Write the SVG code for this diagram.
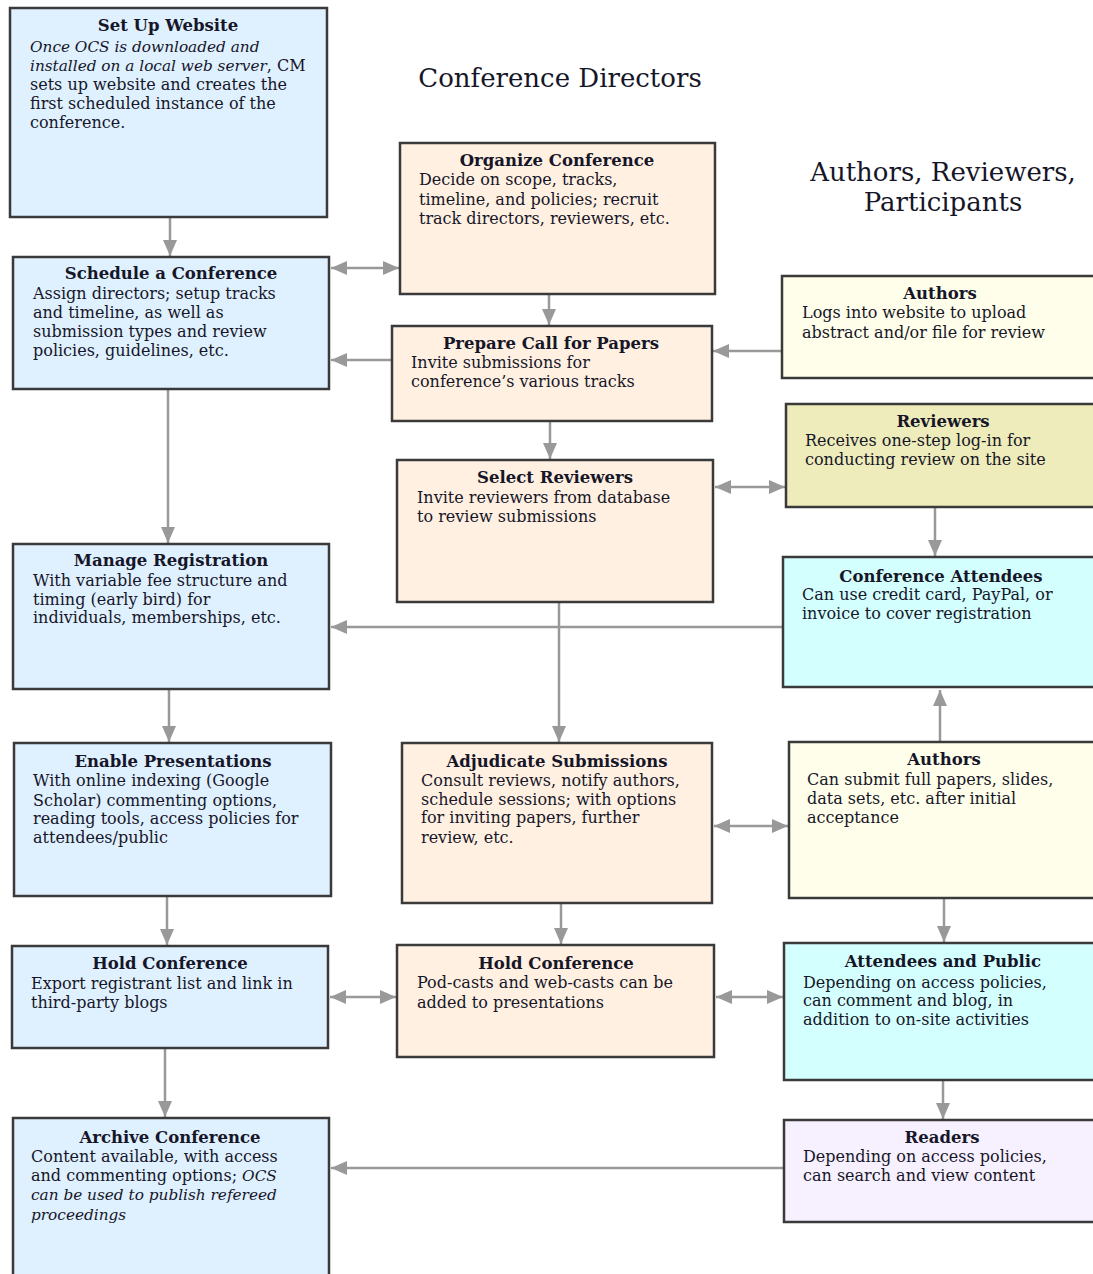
<svg xmlns="http://www.w3.org/2000/svg" width="1093" height="1274" viewBox="0 0 1093 1274">
<defs>
<style>
.box{stroke:#3a3a3a;stroke-width:2.5}
.blue{fill:#dff0ff}
.peach{fill:#fff0e2}
.yel{fill:#fffeea}
.khaki{fill:#eeecba}
.cyan{fill:#d4ffff}
.lav{fill:#f6f0ff}
text{font-family:"DejaVu Serif","Liberation Serif",serif;fill:#161628}
.t{font-size:16.5px;font-weight:bold;text-anchor:middle}
.b{font-size:16px}
.i{font-style:italic;font-size:15.3px}
.h{font-size:26px}
.c{stroke:#999;stroke-width:2.5;fill:none}
</style>
<marker id="a" viewBox="0 0 16 14" refX="16" refY="7" markerWidth="16" markerHeight="14" markerUnits="userSpaceOnUse" orient="auto-start-reverse">
<path d="M0,0 L16,7 L0,14 Z" fill="#999"/>
</marker>
</defs>
<rect width="1093" height="1274" fill="#ffffff"/>

<g id="headings">
<text class="h" x="560" y="87" text-anchor="middle">Conference Directors</text>
<text class="h" x="943" y="181" text-anchor="middle">Authors, Reviewers,</text>
<text class="h" x="943" y="211" text-anchor="middle">Participants</text>
</g>

<g id="connectors">
<line class="c" x1="170" y1="218" x2="170" y2="256" marker-end="url(#a)"/>
<line class="c" x1="331" y1="268" x2="399" y2="268" marker-start="url(#a)" marker-end="url(#a)"/>
<line class="c" x1="549" y1="295" x2="549" y2="325" marker-end="url(#a)"/>
<line class="c" x1="391" y1="360" x2="331" y2="360" marker-end="url(#a)"/>
<line class="c" x1="781" y1="351" x2="713" y2="351" marker-end="url(#a)"/>
<line class="c" x1="550" y1="422" x2="550" y2="459" marker-end="url(#a)"/>
<line class="c" x1="715" y1="487" x2="785" y2="487" marker-start="url(#a)" marker-end="url(#a)"/>
<line class="c" x1="935" y1="508" x2="935" y2="556" marker-end="url(#a)"/>
<line class="c" x1="168" y1="390" x2="168" y2="543" marker-end="url(#a)"/>
<line class="c" x1="782" y1="627" x2="331" y2="627" marker-end="url(#a)"/>
<line class="c" x1="559" y1="603" x2="559" y2="742" marker-end="url(#a)"/>
<line class="c" x1="169" y1="690" x2="169" y2="742" marker-end="url(#a)"/>
<line class="c" x1="940" y1="741" x2="940" y2="690" marker-end="url(#a)"/>
<line class="c" x1="714" y1="826" x2="788" y2="826" marker-start="url(#a)" marker-end="url(#a)"/>
<line class="c" x1="167" y1="897" x2="167" y2="945" marker-end="url(#a)"/>
<line class="c" x1="561" y1="904" x2="561" y2="944" marker-end="url(#a)"/>
<line class="c" x1="944" y1="899" x2="944" y2="942" marker-end="url(#a)"/>
<line class="c" x1="330" y1="997" x2="396" y2="997" marker-start="url(#a)" marker-end="url(#a)"/>
<line class="c" x1="716" y1="997" x2="783" y2="997" marker-start="url(#a)" marker-end="url(#a)"/>
<line class="c" x1="165" y1="1049" x2="165" y2="1117" marker-end="url(#a)"/>
<line class="c" x1="943" y1="1081" x2="943" y2="1119" marker-end="url(#a)"/>
<line class="c" x1="783" y1="1168" x2="331" y2="1168" marker-end="url(#a)"/>
</g>

<g id="setup">
<rect class="box blue" x="10" y="8" width="317" height="209"/>
<text class="t" x="168" y="31">Set Up Website</text>
<text class="b i" x="30" y="52">Once OCS is downloaded and</text>
<text class="b" x="30" y="71"><tspan class="i">installed on a local web server</tspan>, CM</text>
<text class="b" x="30" y="90">sets up website and creates the</text>
<text class="b" x="30" y="109">first scheduled instance of the</text>
<text class="b" x="30" y="128">conference.</text>
</g>

<g id="organize">
<rect class="box peach" x="400" y="143" width="315" height="151"/>
<text class="t" x="557" y="166">Organize Conference</text>
<text class="b" x="419" y="185">Decide on scope, tracks,</text>
<text class="b" x="419" y="205">timeline, and policies; recruit</text>
<text class="b" x="419" y="224">track directors, reviewers, etc.</text>
</g>

<g id="schedule">
<rect class="box blue" x="13" y="257" width="316" height="132"/>
<text class="t" x="171" y="279">Schedule a Conference</text>
<text class="b" x="33" y="299">Assign directors; setup tracks</text>
<text class="b" x="33" y="318">and timeline, as well as</text>
<text class="b" x="33" y="337">submission types and review</text>
<text class="b" x="33" y="356">policies, guidelines, etc.</text>
</g>

<g id="prepare">
<rect class="box peach" x="392" y="326" width="320" height="95"/>
<text class="t" x="551" y="349">Prepare Call for Papers</text>
<text class="b" x="411" y="368">Invite submissions for</text>
<text class="b" x="411" y="387">conference’s various tracks</text>
</g>

<g id="authors1">
<rect class="box yel" x="782" y="276" width="313" height="102"/>
<text class="t" x="940" y="299">Authors</text>
<text class="b" x="802" y="318">Logs into website to upload</text>
<text class="b" x="802" y="338">abstract and/or file for review</text>
</g>

<g id="reviewers">
<rect class="box khaki" x="786" y="404" width="309" height="103"/>
<text class="t" x="943" y="427">Reviewers</text>
<text class="b" x="805" y="446">Receives one-step log-in for</text>
<text class="b" x="805" y="465">conducting review on the site</text>
</g>

<g id="select">
<rect class="box peach" x="397" y="460" width="316" height="142"/>
<text class="t" x="555" y="483">Select Reviewers</text>
<text class="b" x="417" y="503">Invite reviewers from database</text>
<text class="b" x="417" y="522">to review submissions</text>
</g>

<g id="manage">
<rect class="box blue" x="13" y="544" width="316" height="145"/>
<text class="t" x="171" y="566">Manage Registration</text>
<text class="b" x="33" y="586">With variable fee structure and</text>
<text class="b" x="33" y="605">timing (early bird) for</text>
<text class="b" x="33" y="623">individuals, memberships, etc.</text>
</g>

<g id="attendees">
<rect class="box cyan" x="783" y="557" width="312" height="130"/>
<text class="t" x="941" y="582">Conference Attendees</text>
<text class="b" x="802" y="600">Can use credit card, PayPal, or</text>
<text class="b" x="802" y="619">invoice to cover registration</text>
</g>

<g id="enable">
<rect class="box blue" x="14" y="743" width="317" height="153"/>
<text class="t" x="173" y="767">Enable Presentations</text>
<text class="b" x="33" y="786">With online indexing (Google</text>
<text class="b" x="33" y="806">Scholar) commenting options,</text>
<text class="b" x="33" y="824">reading tools, access policies for</text>
<text class="b" x="33" y="843">attendees/public</text>
</g>

<g id="adjudicate">
<rect class="box peach" x="402" y="743" width="310" height="160"/>
<text class="t" x="557" y="767">Adjudicate Submissions</text>
<text class="b" x="421" y="786">Consult reviews, notify authors,</text>
<text class="b" x="421" y="805">schedule sessions; with options</text>
<text class="b" x="421" y="823">for inviting papers, further</text>
<text class="b" x="421" y="843">review, etc.</text>
</g>

<g id="authors2">
<rect class="box yel" x="789" y="742" width="306" height="156"/>
<text class="t" x="944" y="765">Authors</text>
<text class="b" x="807" y="785">Can submit full papers, slides,</text>
<text class="b" x="807" y="804">data sets, etc. after initial</text>
<text class="b" x="807" y="823">acceptance</text>
</g>

<g id="holdleft">
<rect class="box blue" x="12" y="946" width="316" height="102"/>
<text class="t" x="170" y="969">Hold Conference</text>
<text class="b" x="31" y="989">Export registrant list and link in</text>
<text class="b" x="31" y="1008">third-party blogs</text>
</g>

<g id="holdmid">
<rect class="box peach" x="397" y="945" width="317" height="112"/>
<text class="t" x="556" y="969">Hold Conference</text>
<text class="b" x="417" y="988">Pod-casts and web-casts can be</text>
<text class="b" x="417" y="1008">added to presentations</text>
</g>

<g id="public">
<rect class="box cyan" x="784" y="943" width="311" height="137"/>
<text class="t" x="943" y="967">Attendees and Public</text>
<text class="b" x="803" y="988">Depending on access policies,</text>
<text class="b" x="803" y="1006">can comment and blog, in</text>
<text class="b" x="803" y="1025">addition to on-site activities</text>
</g>

<g id="archive">
<rect class="box blue" x="13" y="1118" width="316" height="160"/>
<text class="t" x="170" y="1143">Archive Conference</text>
<text class="b" x="31" y="1162">Content available, with access</text>
<text class="b" x="31" y="1181">and commenting options; <tspan class="i">OCS</tspan></text>
<text class="b i" x="31" y="1200">can be used to publish refereed</text>
<text class="b i" x="31" y="1220">proceedings</text>
</g>

<g id="readers">
<rect class="box lav" x="784" y="1120" width="311" height="102"/>
<text class="t" x="942" y="1143">Readers</text>
<text class="b" x="803" y="1162">Depending on access policies,</text>
<text class="b" x="803" y="1181">can search and view content</text>
</g>
</svg>
